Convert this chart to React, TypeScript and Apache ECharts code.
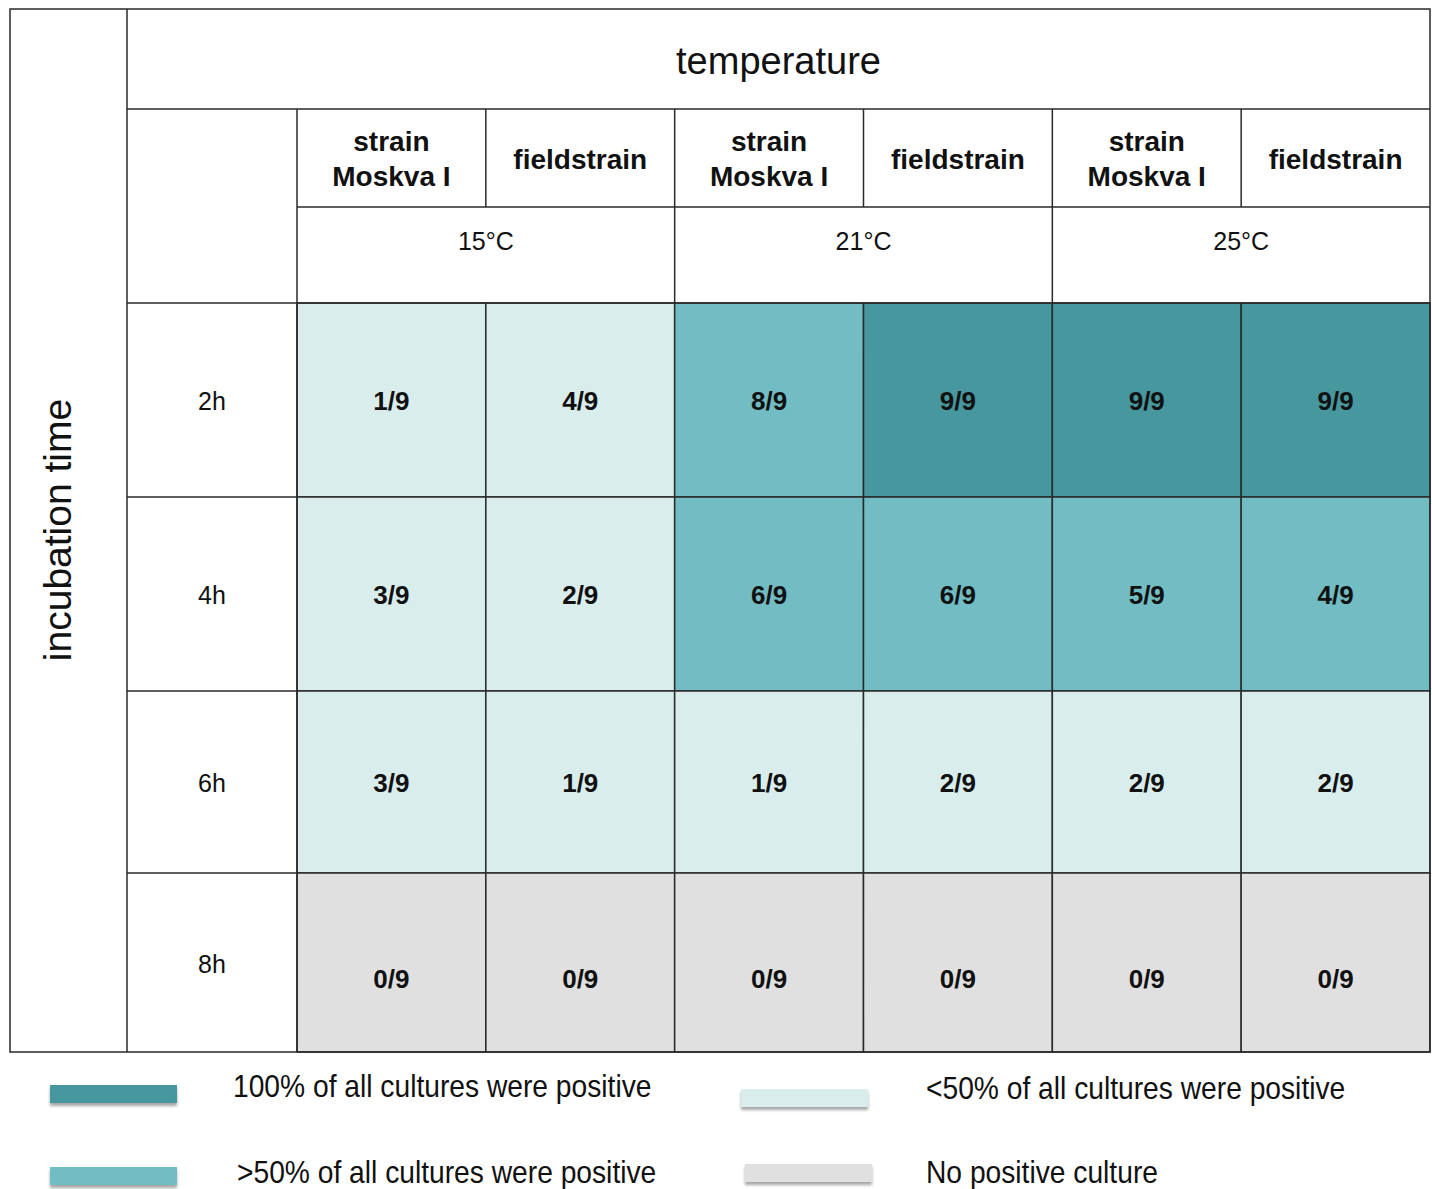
import React, { useEffect, useRef } from "react";
import * as echarts from "echarts";

// ---------- data ----------
const temperatures = ["15°C", "21°C", "25°C"];
const strains = ["strain\nMoskva I", "fieldstrain"];
const incubationTimes = ["2h", "4h", "6h", "8h"];
const culturesPerCell = 9;
const positive2h = [1, 4, 8, 9, 9, 9];
const positive4h = [3, 2, 6, 6, 5, 4];
const positive6h = [3, 1, 1, 2, 2, 2];
const positive8h = [0, 0, 0, 0, 0, 0];
const level2h = ["lt50", "lt50", "gt50", "all", "all", "all"];
const level4h = ["lt50", "lt50", "gt50", "gt50", "gt50", "gt50"];
const level6h = ["lt50", "lt50", "lt50", "lt50", "lt50", "lt50"];
const level8h = ["none", "none", "none", "none", "none", "none"];
const legendKeys = ["all", "lt50", "gt50", "none"];
const legendLabels = [
  "100% of all cultures were positive",
  "<50% of all cultures were positive",
  ">50% of all cultures were positive",
  "No positive culture",
];

// ---------- style / layout ----------
const COLORS: Record<string, string> = {
  all: "#46979e",
  gt50: "#72bdc3",
  lt50: "#daeded",
  none: "#e0e0e0",
};
const LINE = "#2a2a2a";
const FONT = "'Liberation Sans', Arial, Helvetica, sans-serif";
const X_LEFT = 10;
const X_C1 = 127;
const X_C2 = 297;
const X_RIGHT = 1430;
const Y_TOP = 9;
const Y_H1 = 109;
const Y_H2 = 207;
const Y_H3 = 303;
const Y_BOTTOM = 1052;
const ROW_HEIGHTS = [194, 194, 182, 179];
const VALUE_OFFSETS = [1, 1, 1, 16];

export default function App() {
  const ref = useRef<HTMLDivElement>(null);
  useEffect(() => {
    document.body.style.margin = "0";
    if (!ref.current) return;
    const chart = echarts.init(ref.current, undefined, { renderer: "svg" });

    const positives = [positive2h, positive4h, positive6h, positive8h];
    const levels = [level2h, level4h, level6h, level8h];
    const nCols = temperatures.length * strains.length;
    const rowEdges: number[] = [0];
    ROW_HEIGHTS.forEach((h) => rowEdges.push(rowEdges[rowEdges.length - 1] + h));
    const totalH = rowEdges[rowEdges.length - 1];

    const data: any[] = [];
    positives.forEach((row, r) =>
      row.forEach((v, c) => data.push([c, r, v, levels[r][c]]))
    );

    const colW = (X_RIGHT - X_C2) / nCols;
    const lineStyle = { stroke: LINE, lineWidth: 1.5 };
    const g: any[] = [];
    const hline = (y: number, x1: number, x2: number) =>
      g.push({ type: "line", shape: { x1, y1: y, x2, y2: y }, style: lineStyle, z: 10 });
    const vline = (x: number, y1: number, y2: number) =>
      g.push({ type: "line", shape: { x1: x, y1, x2: x, y2 }, style: lineStyle, z: 10 });
    const text = (
      t: string,
      x: number,
      y: number,
      size: number,
      weight: string = "normal",
      extra: any = {}
    ) =>
      g.push({
        type: "text",
        x,
        y,
        z: 11,
        ...extra,
        style: {
          text: t,
          x: 0,
          y: 0,
          fill: "#111",
          fontSize: size,
          fontWeight: weight,
          fontFamily: FONT,
          textAlign: extra.align || "center",
          textVerticalAlign: "middle",
          align: extra.align || "center",
          verticalAlign: "middle",
          lineHeight: size * 1.25,
        },
      });

    // borders
    g.push({
      type: "rect",
      shape: { x: X_LEFT, y: Y_TOP, width: X_RIGHT - X_LEFT, height: Y_BOTTOM - Y_TOP },
      style: { fill: "none", ...lineStyle },
      z: 10,
    });
    vline(X_C1, Y_TOP, Y_BOTTOM);
    hline(Y_H1, X_C1, X_RIGHT);
    hline(Y_H3, X_C1, X_RIGHT);
    vline(X_C2, Y_H1, Y_BOTTOM);
    hline(Y_H2, X_C2, X_RIGHT);
    for (let c = 1; c < nCols; c++) vline(X_C2 + c * colW, Y_H1, Y_H2);
    for (let t = 1; t < temperatures.length; t++)
      vline(X_C2 + t * strains.length * colW, Y_H2, Y_H3);
    const plotH = Y_BOTTOM - Y_H3;
    for (let r = 1; r < ROW_HEIGHTS.length; r++)
      hline(Y_H3 + (rowEdges[r] / totalH) * plotH, X_C1, X_C2);

    // header texts
    text("temperature", (X_C1 + X_RIGHT) / 2, (Y_TOP + Y_H1) / 2 + 2, 38);
    text("incubation time", 57, 530, 39, "normal", {
      rotation: Math.PI / 2,
    });
    for (let t = 0; t < temperatures.length; t++) {
      strains.forEach((s, si) => {
        const c = t * strains.length + si;
        text(s, X_C2 + (c + 0.5) * colW, (Y_H1 + Y_H2) / 2 + 1, 28, "bold");
      });
      text(
        temperatures[t],
        X_C2 + (t + 0.5) * strains.length * colW,
        Y_H2 + 34,
        25
      );
    }
    incubationTimes.forEach((lab, r) => {
      const yc = Y_H3 + ((rowEdges[r] + rowEdges[r + 1]) / 2 / totalH) * plotH;
      text(lab, (X_C1 + X_C2) / 2, yc + 1, 25);
    });

    // legend
    const legendPos = [
      { sx: 50, sy: 1085, tx: 233, ty: 1086 },
      { sx: 741, sy: 1089, tx: 926, ty: 1088 },
      { sx: 50, sy: 1167, tx: 237, ty: 1172 },
      { sx: 745, sy: 1164, tx: 926, ty: 1172 },
    ];
    legendKeys.forEach((k, i) => {
      const p = legendPos[i];
      g.push({
        type: "rect",
        shape: { x: p.sx, y: p.sy, width: 127, height: 18 },
        style: {
          fill: COLORS[k],
          shadowBlur: 3,
          shadowOffsetY: 3,
          shadowColor: "rgba(0,0,0,0.35)",
        },
      });
      text(legendLabels[i], p.tx, p.ty, 31, "normal", { align: "left", scaleX: 0.91 });
    });

    chart.setOption({
      animation: false,
      grid: {
        left: X_C2,
        top: Y_H3,
        width: X_RIGHT - X_C2,
        height: Y_BOTTOM - Y_H3,
        containLabel: false,
      },
      xAxis: { type: "value", min: 0, max: nCols, show: false },
      yAxis: { type: "value", min: 0, max: totalH, inverse: true, show: false },
      series: [
        {
          type: "custom",
          data,
          encode: { x: 0, y: 1 },
          renderItem: (params: any, api: any) => {
            const c = api.value(0);
            const r = api.value(1);
            const v = api.value(2);
            const lvl = levels[r][c];
            const p0 = api.coord([c, rowEdges[r]]);
            const p1 = api.coord([c + 1, rowEdges[r + 1]]);
            return {
              type: "group",
              children: [
                {
                  type: "rect",
                  shape: { x: p0[0], y: p0[1], width: p1[0] - p0[0], height: p1[1] - p0[1] },
                  style: { fill: COLORS[lvl], stroke: LINE, lineWidth: 1.5 },
                },
                {
                  type: "text",
                  style: {
                    text: `${v}/${culturesPerCell}`,
                    x: (p0[0] + p1[0]) / 2,
                    y: (p0[1] + p1[1]) / 2 + VALUE_OFFSETS[r],
                    fill: "#111",
                    fontSize: 26,
                    fontWeight: "bold",
                    fontFamily: FONT,
                    align: "center",
                    verticalAlign: "middle",
                    textAlign: "center",
                    textVerticalAlign: "middle",
                  },
                },
              ],
            };
          },
        },
      ],
      graphic: { elements: g },
    });
    return () => chart.dispose();
  }, []);
  return <div ref={ref} style={{ width: 1432, height: 1189, background: "#fff" }} />;
}
